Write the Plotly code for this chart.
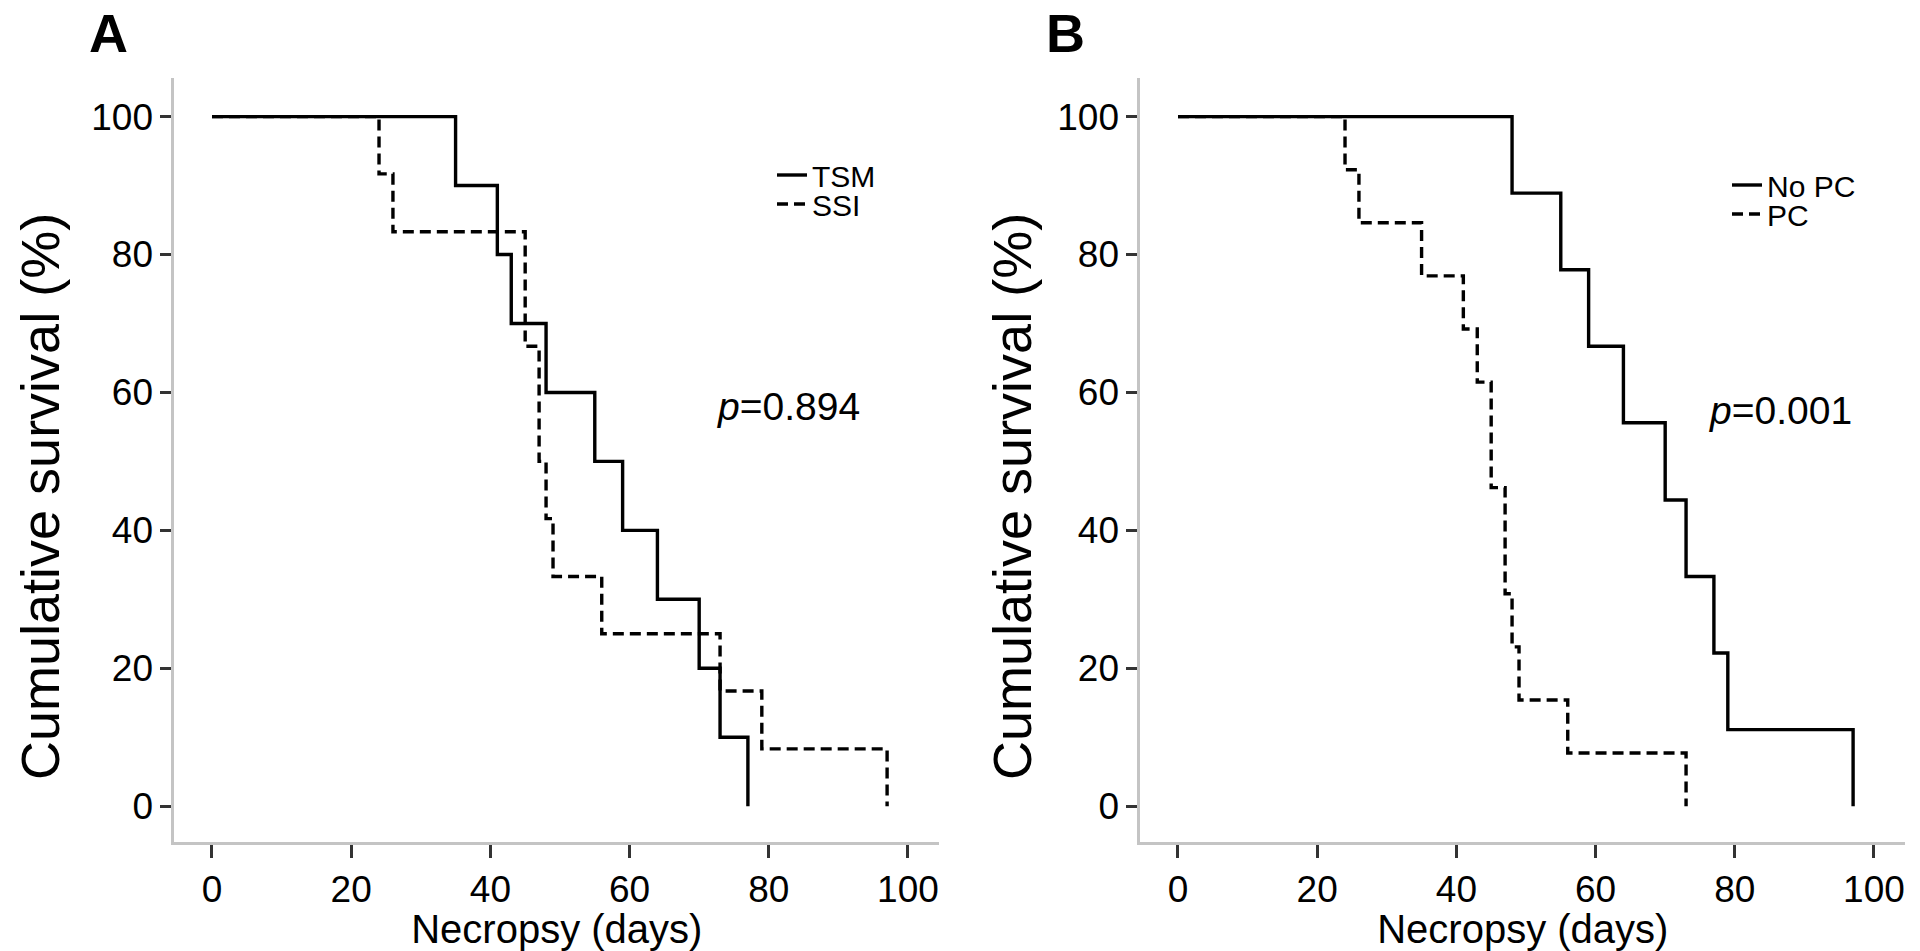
import plotly.graph_objects as go

# ---------------- data ----------------
tsm_days = [0, 35, 41, 43, 48, 55, 59, 64, 70, 73, 77]
tsm_surv = [100, 90, 80, 70, 60, 50, 40, 30, 20, 10, 0]

ssi_days = [0, 24, 26, 45, 47, 48, 49, 56, 73, 79, 97]
ssi_surv = [100, 91.7, 83.3, 66.7, 50, 41.7, 33.3, 25, 16.7, 8.3, 0]

nopc_days = [0, 48, 55, 59, 64, 70, 73, 77, 79, 97]
nopc_surv = [100, 88.9, 77.8, 66.7, 55.6, 44.4, 33.3, 22.2, 11.1, 0]

pc_days = [0, 24, 26, 35, 41, 43, 45, 47, 48, 49, 56, 73]
pc_surv = [100, 92.3, 84.6, 76.9, 69.2, 61.5, 46.2, 30.8, 23.1, 15.4, 7.7, 0]

x_ticks = [0, 20, 40, 60, 80, 100]
y_ticks = [0, 20, 40, 60, 80, 100]
p_a = "0.894"
p_b = "0.001"

FONT = "Liberation Sans, Arial, Helvetica, sans-serif"
W, H = 1920, 951

fig = go.Figure()

solid = dict(color="black", width=3.4, shape="hv")
dashed = dict(color="black", width=3.4, shape="hv", dash="11px,6px")

fig.add_trace(go.Scatter(x=tsm_days, y=tsm_surv, mode="lines", name="TSM",
                         line=solid, xaxis="x", yaxis="y", legend="legend"))
fig.add_trace(go.Scatter(x=ssi_days, y=ssi_surv, mode="lines", name="SSI",
                         line=dashed, xaxis="x", yaxis="y", legend="legend3"))
fig.add_trace(go.Scatter(x=nopc_days, y=nopc_surv, mode="lines", name="No PC",
                         line=solid, xaxis="x2", yaxis="y2", legend="legend2"))
fig.add_trace(go.Scatter(x=pc_days, y=pc_surv, mode="lines", name="PC",
                         line=dashed, xaxis="x2", yaxis="y2", legend="legend4"))

xr = [-5.4, 104.5]
yr = [-5.2, 105.6]
ydom = [1 - 842 / H, 1 - 78 / H]

def xaxis(dom, anchor):
    return dict(domain=dom, range=xr, anchor=anchor, showline=True, linecolor="#c4c4c4",
                linewidth=3, ticks="outside", ticklen=13, tickwidth=2.5, tickcolor="#333",
                tickvals=x_ticks, showgrid=False, zeroline=False, automargin=False,
                tickfont=dict(family=FONT, size=37, color="black"),
                title=dict(text="Necropsy (days)", font=dict(family=FONT, size=40, color="black"),
                           standoff=2))

def yaxis(anchor):
    return dict(domain=ydom, range=yr, anchor=anchor, showline=True, linecolor="#c4c4c4",
                linewidth=3, ticks="outside", ticklen=11, tickwidth=2.5, tickcolor="#333",
                tickvals=y_ticks, showgrid=False, zeroline=False, automargin=False,
                tickfont=dict(family=FONT, size=37, color="black"))

def legend(x, ytop):
    return dict(x=x / W, y=1 - ytop / H, xanchor="left", yanchor="top",
                font=dict(family=FONT, size=30, color="black"), bgcolor="rgba(0,0,0,0)",
                tracegroupgap=0, itemwidth=30, borderwidth=0)

def text_ann(text, x, y, size, angle=0):
    return dict(text=text, x=x / W, y=1 - y / H, xref="paper", yref="paper",
                xanchor="center", yanchor="middle", showarrow=False, textangle=angle,
                font=dict(family=FONT, size=size, color="black"))

fig.update_layout(
    template="none",
    width=W, height=H,
    margin=dict(l=0, r=0, t=0, b=0, pad=0, autoexpand=False),
    paper_bgcolor="white", plot_bgcolor="white",
    font=dict(family=FONT, color="black"),
    xaxis=xaxis([174.4 / W, 939.3 / W], "y"),
    yaxis=yaxis("x"),
    xaxis2=xaxis([1140.4 / W, 1905.3 / W], "y2"),
    yaxis2=yaxis("x2"),
    legend=legend(772, 149),
    legend3=legend(772, 178),
    legend2=legend(1727, 159),
    legend4=legend(1727, 188),
    annotations=[
        text_ann("<b>A</b>", 108, 33, 54),
        text_ann("<b>B</b>", 1065, 33, 54),
        text_ann("<i>p</i>=" + p_a, 788, 406, 39),
        text_ann("<i>p</i>=" + p_b, 1780, 410, 39),
        text_ann("Cumulative survival (%)", 40, 497, 54, angle=-90),
        text_ann("Cumulative survival (%)", 1012, 497, 54, angle=-90),
    ],
    showlegend=True,
)

fig.write_html("out.html", config={"displayModeBar": False},
               post_script="document.body.style.margin='0';document.body.style.overflow='hidden';")
